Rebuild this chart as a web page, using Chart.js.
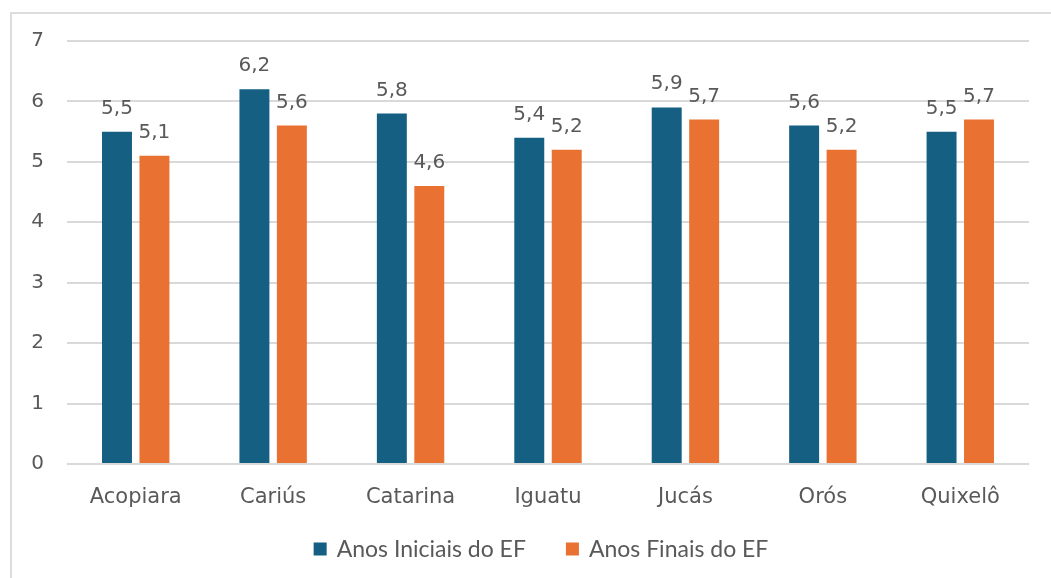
<!DOCTYPE html>
<html>
<head>
<meta charset="utf-8">
<script src="https://cdn.jsdelivr.net/npm/chart.js@4/dist/chart.umd.min.js"></script>
<style>
  html, body { margin: 0; padding: 0; background: #fff; overflow: hidden; }
  #moldura { position: absolute; left: 10px; top: 12px; width: 1100px; height: 600px; border: 2px solid #dcdcdc; }
  #wrap { position: absolute; left: 0; top: 0; width: 1051px; height: 578px; }
</style>
</head>
<body>
<div id="moldura"></div>
<div id="wrap"><canvas id="grafica"></canvas></div>
<script>
const municipios = ["Acopiara", "Cariús", "Catarina", "Iguatu", "Jucás", "Orós", "Quixelô"];
const anosIniciais = [5.5, 6.2, 5.8, 5.4, 5.9, 5.6, 5.5];
const anosFinais = [5.1, 5.6, 4.6, 5.2, 5.7, 5.2, 5.7];
const rotulosSeries = ["Anos Iniciais do EF", "Anos Finais do EF"];
const coresSeries = ["#156082", "#E97132"];

const corTexto = "#595959";
const fonteNum = "'DejaVu Sans'";

// rotulos de valor em cima das barras (formato pt-BR)
const rotulosValor = {
    id: "rotulosValor",
    afterDatasetsDraw(chart) {
        const ctx = chart.ctx;
        ctx.save();
        ctx.font = "20px " + fonteNum;
        ctx.fillStyle = corTexto;
        ctx.textAlign = "center";
        ctx.textBaseline = "alphabetic";
        chart.data.datasets.forEach((ds, i) => {
            chart.getDatasetMeta(i).data.forEach((bar, j) => {
                ctx.fillText(ds.data[j].toFixed(1).replace(".", ","), bar.x, bar.y - 18);
            });
        });
        ctx.restore();
    }
};

// legenda desenhada a mao pra acertar o espacamento
const legenda = {
    id: "legenda",
    afterDraw(chart) {
        const ctx = chart.ctx;
        const caixa = 13, folga = 10, entre = 40, y = 549;
        ctx.save();
        ctx.font = "23px Lato";
        ctx.textBaseline = "middle";
        const larguras = chart.data.datasets.map(ds => caixa + folga + ctx.measureText(ds.label).width);
        const total = larguras.reduce((a, b) => a + b, 0) + entre * (larguras.length - 1);
        let x = (chart.chartArea.left + chart.chartArea.right) / 2 - 7 - total / 2;
        chart.data.datasets.forEach((ds, i) => {
            ctx.fillStyle = ds.backgroundColor;
            ctx.fillRect(x, y - caixa / 2, caixa, caixa);
            ctx.fillStyle = corTexto;
            ctx.fillText(ds.label, x + caixa + folga, y + 1);
            x += larguras[i] + entre;
        });
        ctx.restore();
    }
};

const ctx = document.getElementById("grafica").getContext("2d");
const grafica = new Chart(ctx, {
    type: "bar",
    data: {
        labels: municipios,
        datasets: [{
            label: rotulosSeries[0],
            data: anosIniciais,
            backgroundColor: coresSeries[0],
            barPercentage: 0.8,
            categoryPercentage: 0.545
        }, {
            label: rotulosSeries[1],
            data: anosFinais,
            backgroundColor: coresSeries[1],
            barPercentage: 0.8,
            categoryPercentage: 0.545
        }]
    },
    options: {
        responsive: true,
        maintainAspectRatio: false,
        animation: false,
        layout: { padding: { top: 41, right: 22, bottom: 0, left: 0 } },
        plugins: {
            legend: { display: false },
            tooltip: { enabled: false }
        },
        scales: {
            x: {
                grid: { display: false, drawTicks: false },
                border: { display: false },
                ticks: { color: corTexto, font: { family: fonteNum, size: 21 }, padding: 21 },
                afterFit: (s) => { s.height = 114; }
            },
            y: {
                min: 0,
                max: 7,
                ticks: { stepSize: 1, color: corTexto, font: { family: fonteNum, size: 20 }, padding: 23 },
                grid: { color: "#d9d9d9", lineWidth: 2, drawTicks: false },
                border: { display: false },
                afterFit: (s) => { s.width = 67; }
            }
        }
    },
    plugins: [rotulosValor, legenda]
});
</script>
</body>
</html>
